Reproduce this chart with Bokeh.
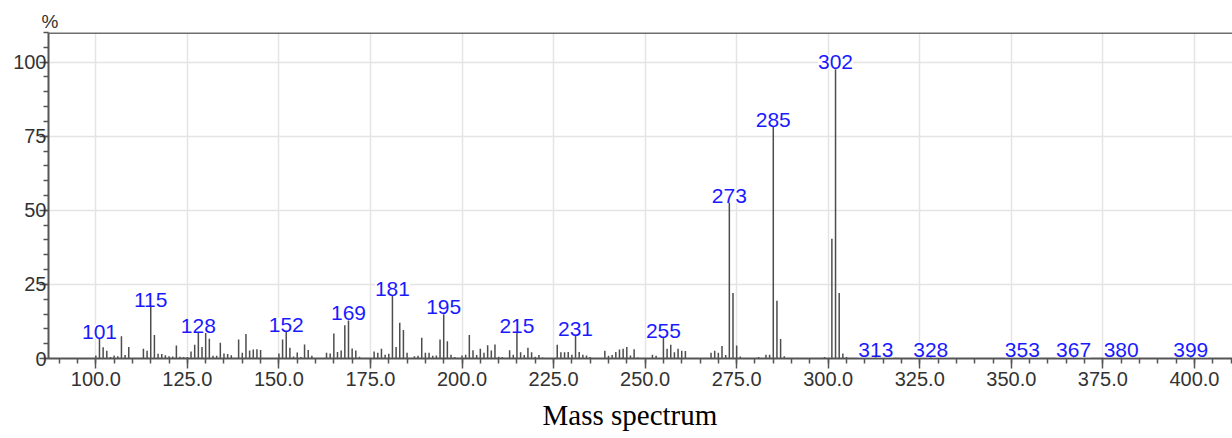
from bokeh.plotting import figure
from bokeh.models import (ColumnDataSource, LabelSet, Range1d, SingleIntervalTicker,
                          NumeralTickFormatter, Span, Title)
from bokeh.core.properties import value
from bokeh.embed import file_html
from bokeh.resources import INLINE

# ---- data (m/z, relative intensity %) ----
mz = [100, 101, 102, 103, 104, 105, 106, 107, 108, 109,
      113, 114, 115, 116, 117, 118, 119, 120, 121, 122, 123, 124, 125,
      126, 127, 128, 129, 130, 131, 132, 133, 134, 135, 136, 137,
      139, 140, 141, 142, 143, 144, 145,
      150, 151, 152, 153, 154, 155, 156, 157, 158, 159,
      163, 164, 165, 166, 167, 168, 169, 170, 171, 172,
      176, 177, 178, 179, 180, 181, 182, 183, 184, 185,
      187, 188, 189, 190, 191, 192, 193, 194, 195, 196, 197, 198,
      200, 201, 202, 203, 204, 205, 206, 207, 208, 209, 210, 211,
      213, 214, 215, 216, 217, 218, 219, 220, 221, 222,
      226, 227, 228, 229, 230, 231, 232, 233, 234, 235,
      239, 240, 241, 242, 243, 244, 245, 246, 247, 248,
      252, 253, 255, 256, 257, 258, 259, 260, 261,
      268, 269, 270, 271, 272, 273, 274, 275, 276,
      281, 283, 284, 285, 286, 287, 288,
      299, 301, 302, 303, 304, 305,
      313, 328, 353, 367, 380, 399]
intensity = [1.0, 9.0, 3.8, 2.6, 0.5, 1.0, 0.8, 7.5, 1.2, 3.9,
             3.3, 2.6, 19.7, 7.9, 1.6, 1.5, 1.1, 0.8, 0.7, 4.4, 0.6, 0.5, 0.5,
             2.4, 4.6, 11.0, 3.9, 9.0, 6.7, 0.9, 0.9, 5.3, 1.7, 1.5, 1.1,
             6.4, 1.9, 8.3, 2.7, 3.0, 3.1, 2.9,
             1.7, 6.4, 11.4, 3.6, 0.7, 2.0, 0.5, 4.7, 2.9, 0.9,
             1.9, 1.7, 8.4, 2.2, 2.7, 11.2, 15.2, 3.4, 2.7, 0.6,
             2.4, 1.9, 3.3, 1.3, 1.6, 23.5, 3.9, 12.1, 9.6, 1.9,
             0.8, 0.9, 7.0, 1.9, 1.9, 0.9, 1.0, 6.4, 17.3, 5.8, 1.3, 0.5,
             1.0, 1.3, 7.9, 2.8, 1.2, 3.3, 1.9, 4.5, 2.7, 4.7, 0.6, 0.5,
             2.8, 1.3, 11.1, 2.1, 1.2, 3.6, 2.1, 0.6, 1.2, 0.3,
             4.6, 2.1, 2.1, 2.2, 1.3, 10.0, 2.2, 1.3, 1.0, 0.5,
             2.6, 0.9, 1.2, 2.2, 3.0, 3.3, 3.9, 1.0, 3.1, 0.3,
             1.3, 0.9, 9.4, 3.3, 4.6, 2.1, 3.3, 2.6, 2.5,
             1.9, 2.6, 1.9, 4.2, 1.2, 54.8, 22.1, 4.4, 0.7,
             0.5, 1.3, 1.3, 80.6, 19.5, 6.6, 0.8,
             0.5, 40.4, 100.0, 22.1, 1.7, 0.5,
             2.8, 2.8, 2.8, 2.8, 2.8, 2.8]
labeled_mz = [101, 115, 128, 152, 169, 181, 195, 215, 231, 255, 273, 285, 302,
              313, 328, 353, 367, 380, 399]
x_ticks_interval = 25
y_ticks_interval = 25
x_start, x_end = 87.08, 410.4
y_start, y_end = 0, 110
title_text = "Mass spectrum"
y_unit_text = "%"

lookup = dict(zip(mz, intensity))
bars = ColumnDataSource(dict(x=mz, top=intensity, base=[0] * len(mz)))
labs = ColumnDataSource(dict(x=labeled_mz, y=[lookup[m] for m in labeled_mz],
                             text=[str(m) for m in labeled_mz]))

p = figure(width=1232, height=438, output_backend="svg", toolbar_location=None,
           x_range=Range1d(x_start, x_end), y_range=Range1d(y_start, y_end),
           min_border_left=48, min_border_right=0, min_border_top=32, min_border_bottom=79)
p.outline_line_color = None
p.background_fill_color = "white"

p.segment(x0="x", y0="base", x1="x", y1="top", source=bars,
          line_color="#4d4d4d", line_width=1.5)

for ax, tk in ((p.xaxis[0], x_ticks_interval), (p.yaxis[0], y_ticks_interval)):
    ax.ticker = SingleIntervalTicker(interval=tk, num_minor_ticks=5)
    ax.axis_line_color = "#555555"
    ax.axis_line_width = 2
    ax.major_tick_line_color = "#555555"
    ax.major_tick_line_width = 1.5
    ax.minor_tick_line_color = "#555555"
    ax.minor_tick_line_width = 1.5
    ax.major_tick_in = 0
    ax.minor_tick_in = 0
    ax.major_label_text_font = "Liberation Sans"
    ax.major_label_text_font_size = "20px"
    ax.major_label_text_color = "#333333"

p.xaxis[0].formatter = NumeralTickFormatter(format="0.0")
p.xaxis[0].major_tick_out = 10
p.xaxis[0].minor_tick_out = 5
p.xaxis[0].major_label_standoff = 3
p.yaxis[0].major_tick_out = 9
p.yaxis[0].minor_tick_out = 5
p.yaxis[0].major_label_standoff = -7

p.xgrid.grid_line_color = "#e4e4e4"
p.xgrid.grid_line_width = 1.5
p.ygrid.grid_line_color = "#e4e4e4"
p.ygrid.grid_line_width = 1.5

p.add_layout(Span(location=y_end, dimension="width", line_color="#6e6e6e", line_width=3))

p.add_layout(LabelSet(x="x", y="y", text="text", source=labs,
                      text_align="center", text_baseline="middle",
                      text_font=value("Liberation Sans"), text_font_size=value("21px"),
                      text_color="#1a1aff", background_fill_color="white"))

p.add_layout(Title(text=y_unit_text, align="left", offset=-7, standoff=2,
                   text_font="Liberation Sans", text_font_size="19px",
                   text_font_style="normal", text_color="#333333"), "above")

p.add_layout(Title(text=title_text, align="left", offset=494, standoff=16,
                   text_font="Liberation Serif", text_font_size="29px",
                   text_font_style="normal", text_color="black"), "below")

open("out.html", "w").write(file_html(p, INLINE))
